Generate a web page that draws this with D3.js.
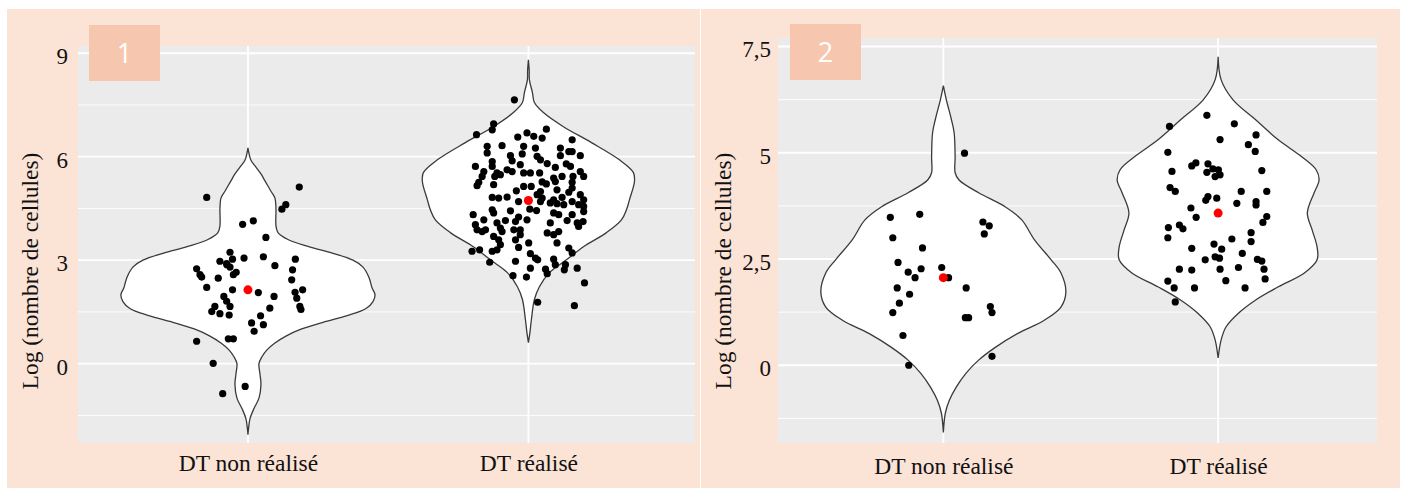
<!DOCTYPE html>
<html><head><meta charset="utf-8">
<script src="https://cdn.jsdelivr.net/npm/d3@7"></script>
<style>body{margin:0;background:#fff}svg{display:block}</style>
</head><body><svg id="chart" width="1407" height="491"></svg>
<script>
// ---------------- DATA ----------------
const categories = ["DT non réalisé", "DT réalisé"];
const yTitle = "Log (nombre de cellules)";
const panelLabels = ["1", "2"];

const p1TickValues = [0, 3, 6, 9];
const p1TickLabels = ["0", "3", "6", "9"];
const p1MinorTicks = [-1.5, 1.5, 4.5, 7.5];
const p2TickValues = [0, 2.5, 5, 7.5];
const p2TickLabels = ["0", "2,5", "5", "7,5"];
const p2MinorTicks = [-1.25, 1.25, 3.75, 6.25];

// Panel 1 – DT non réalisé : values and horizontal jitter (fraction of category step)
const p1NonValues = [4.82,5.12,4.61,4.48,4.04,4.14,3.66,3.23,3.06,3.10,3.03,2.97,3.03,2.90,2.75,2.58,2.51,2.80,2.58,2.48,2.84,2.72,2.43,2.21,2.14,2.06,1.95,2.07,2.14,1.90,1.95,1.81,1.66,1.66,1.51,1.45,1.41,1.61,1.66,1.57,1.39,1.18,1.13,0.94,0.72,0.72,0.65,0.01,-0.87,-0.66,2.87,2.65];
const p1NonJitter = [-0.147,0.183,0.135,0.121,-0.019,0.019,0.064,-0.064,-0.014,0.055,0.169,-0.100,-0.055,-0.076,-0.183,-0.171,-0.165,-0.064,-0.052,-0.106,0.096,0.159,0.156,-0.147,-0.055,0.037,0.093,0.168,0.195,0.174,-0.086,-0.076,-0.064,-0.118,-0.129,-0.100,-0.067,0.078,0.185,0.189,0.045,0.013,0.055,0.022,-0.070,-0.052,-0.183,-0.124,-0.090,-0.010,-0.075,-0.042];

// Panel 1 – DT réalisé
const p1DoneValues = [7.65,6.95,6.78,6.64,6.80,6.57,6.69,6.59,6.54,6.49,6.30,6.32,6.30,6.25,6.25,6.11,6.08,6.03,6.01,6.15,6.15,6.03,6.03,5.86,5.88,5.77,5.91,5.80,5.79,5.72,5.72,5.72,5.62,5.57,5.69,5.57,5.57,5.43,5.53,5.48,5.53,5.53,5.53,5.43,5.38,5.28,5.43,5.43,5.43,5.26,5.16,5.19,5.14,5.14,5.27,5.21,5.26,5.09,5.01,4.99,5.04,4.97,4.90,4.75,4.82,4.80,4.83,4.70,4.90,4.80,4.75,4.82,4.70,4.66,4.64,4.61,4.70,4.61,4.56,4.48,4.44,4.32,4.46,4.37,4.43,4.37,4.32,4.32,4.41,4.17,4.25,4.12,4.17,4.03,3.88,4.08,3.93,4.15,4.08,4.15,4.08,4.12,3.98,3.88,3.83,3.88,3.88,3.74,3.83,3.79,3.74,3.83,3.69,3.59,3.45,3.59,3.50,3.50,3.37,3.26,3.30,3.26,3.30,3.35,3.21,3.19,3.06,3.01,2.94,2.97,3.03,2.87,2.87,2.72,2.77,2.77,2.74,2.61,2.55,2.51,2.34,1.78,1.68];
const p1DoneJitter = [-0.050,-0.124,-0.129,-0.185,0.064,-0.038,-0.005,0.019,0.049,0.156,-0.147,-0.094,-0.017,0.025,0.114,-0.147,-0.022,-0.064,0.031,0.144,0.156,0.114,0.185,-0.129,-0.058,-0.029,0.043,0.067,0.135,0.150,-0.189,-0.129,-0.076,-0.058,0.096,0.185,-0.159,-0.165,-0.112,-0.100,-0.017,0.007,0.040,-0.120,0.090,0.096,0.120,0.159,0.197,-0.177,-0.183,-0.124,-0.017,0.010,0.049,0.064,0.156,0.156,-0.043,0.043,0.102,0.144,0.185,0.197,-0.129,-0.106,-0.076,-0.035,0.031,0.049,0.090,0.120,0.043,0.078,0.102,0.126,0.156,0.179,0.197,0.005,0.029,-0.197,-0.129,-0.124,-0.064,0.090,0.108,0.156,0.197,-0.159,-0.035,-0.046,-0.005,-0.189,-0.183,-0.112,-0.100,-0.082,0.078,0.138,0.174,0.195,0.179,-0.153,-0.165,-0.052,-0.029,-0.029,-0.094,0.067,0.090,0.108,-0.124,-0.106,-0.100,-0.046,0.001,0.102,-0.035,-0.201,-0.174,-0.129,-0.112,0.144,0.156,0.007,0.025,0.033,-0.138,-0.046,0.090,0.096,0.132,0.128,0.174,0.007,0.061,0.067,-0.055,-0.007,0.200,0.033,0.164];

// Panel 2 – DT non réalisé
const p2NonValues = [4.99,3.48,3.55,3.37,3.28,3.09,3.00,2.76,2.42,2.27,2.30,2.19,2.06,2.06,1.82,1.82,1.67,1.46,1.38,1.24,1.24,1.12,1.12,0.70,0.21,0.00];
const p2NonJitter = [0.077,-0.193,-0.086,0.144,0.167,0.149,-0.184,-0.076,-0.165,-0.081,-0.006,-0.128,-0.103,0.019,-0.168,0.083,-0.123,-0.160,0.171,0.177,-0.184,0.080,0.092,-0.147,0.177,-0.126];

// Panel 2 – DT réalisé
const p2DoneValues = [5.88,5.62,5.68,5.42,5.31,5.19,5.03,5.01,4.69,4.76,4.74,4.62,4.60,4.54,4.44,4.48,4.56,4.58,4.18,4.09,3.97,3.88,3.93,4.09,4.09,3.81,3.85,3.77,3.70,3.48,3.50,3.36,3.24,3.30,3.21,3.00,3.12,2.97,2.91,2.75,2.85,2.73,2.63,2.48,2.55,2.52,2.49,2.45,2.26,2.24,2.26,2.30,2.26,2.03,1.99,1.98,1.82,1.82,1.82,1.49];
const p2DoneJitter = [-0.041,-0.177,0.059,0.138,0.007,0.110,0.135,-0.183,-0.096,-0.081,-0.037,-0.019,0.001,-0.041,-0.011,0.007,-0.168,0.159,-0.175,-0.156,-0.037,-0.045,-0.005,0.084,0.177,0.068,0.138,0.138,-0.099,-0.080,0.177,0.163,-0.181,-0.141,-0.128,-0.183,0.120,0.050,0.120,-0.096,-0.015,0.013,0.088,-0.047,-0.011,0.005,0.143,0.159,-0.141,-0.096,0.007,0.074,0.167,0.171,0.028,-0.183,-0.160,-0.086,0.098,-0.156];

// Group means (red points)
const p1Means = [2.14, 4.73];
const p2Means = [2.06, 3.58];

// Violin density profiles: [value, relative density]
const p1NonViolin = [[6.26,0],[6.1,1],[5.9,3],[5.7,8],[5.5,13],[5.3,17],[5.0,23],[4.8,27],[4.5,28],[4.0,28],[3.8,30],[3.6,40],[3.4,60],[3.2,85],[3.0,105],[2.8,115],[2.5,121],[2.2,124],[2.0,127],[1.8,125],[1.6,118],[1.4,100],[1.2,75],[1.0,53],[0.8,38],[0.6,27],[0.4,19],[0.2,14],[0,11],[-0.3,12],[-0.6,13],[-1.0,11],[-1.3,6],[-1.6,2],[-1.9,0.5],[-2.06,0]];
const p1DoneViolin = [[8.81,0],[8.5,0.8],[8.23,1],[7.86,4],[7.57,6],[7.28,15],[6.87,35],[6.41,63],[5.91,91],[5.54,105],[5.28,106],[4.75,101],[4.46,98],[4.17,93],[3.80,78],[3.39,55],[3.01,38],[2.64,21],[2.23,11],[1.86,6],[1.28,3],[0.9,1.5],[0.61,0]];
const p2NonViolin = [[6.58,0],[6.25,3],[5.8,8],[5.47,11],[4.9,12],[4.53,12],[4.36,16],[4.06,36],[3.73,63],[3.42,80],[2.95,93],[2.48,110],[2.17,120],[1.72,125],[1.37,120],[1.06,103],[0.75,76],[0.42,53],[0.12,36],[-0.19,23],[-0.52,13],[-0.83,6],[-1.13,2],[-1.58,0]];
const p2DoneViolin = [[7.26,0],[6.72,3],[6.25,15],[5.78,38],[5.31,61],[4.91,85],[4.60,100],[4.36,103],[4.06,98],[3.58,91],[3.18,96],[2.78,101],[2.48,101],[2.17,88],[1.84,61],[1.53,38],[1.23,21],[0.90,8],[0.59,3],[0.17,0]];

// ---------------- LAYOUT ----------------
const svg = d3.select("#chart");
const serif = "'Liberation Serif','Times New Roman',serif";

const panels = [
  { bg: [7, 9, 693, 479], plot: { l: 78, t: 46, r: 695, b: 443 }, yDomain: [-2.30, 9.21],
    ticks: p1TickValues, tickLabels: p1TickLabels, minor: p1MinorTicks, pad: 0.6, align: 0.505,
    titleX: 38, tickPad: 10, xLabelY: 471, box: [89, 25, 71, 56], label: panelLabels[0],
    groups: [ {v: p1NonValues, j: p1NonJitter, vio: p1NonViolin}, {v: p1DoneValues, j: p1DoneJitter, vio: p1DoneViolin} ],
    means: p1Means },
  { bg: [701, 9, 699, 479], plot: { l: 778, t: 38, r: 1377, b: 443 }, yDomain: [-1.83, 7.70],
    ticks: p2TickValues, tickLabels: p2TickLabels, minor: p2MinorTicks, pad: 0.59, align: 0.51,
    titleX: 731, tickPad: 7, xLabelY: 474, box: [790, 24, 71, 56], label: panelLabels[1],
    groups: [ {v: p2NonValues, j: p2NonJitter, vio: p2NonViolin}, {v: p2DoneValues, j: p2DoneJitter, vio: p2DoneViolin} ],
    means: p2Means }
];

panels.forEach(P => {
  const g = svg.append("g");
  g.append("rect").attr("x", P.bg[0]).attr("y", P.bg[1]).attr("width", P.bg[2]).attr("height", P.bg[3]).attr("fill", "#FBE3D6");
  const p = P.plot;
  g.append("rect").attr("x", p.l).attr("y", p.t).attr("width", p.r - p.l).attr("height", p.b - p.t).attr("fill", "#EBEBEB");

  const y = d3.scaleLinear().domain(P.yDomain).range([p.b, p.t]);
  const x = d3.scalePoint().domain(categories).range([p.l, p.r]).padding(P.pad).align(P.align);
  const step = x.step();
  const w = d3.scaleLinear().domain([0, 127]).range([0, 0.453 * step]);

  // grid
  g.selectAll(".minor").data(P.minor).join("line")
    .attr("x1", p.l).attr("x2", p.r).attr("y1", d => y(d)).attr("y2", d => y(d))
    .attr("stroke", "#fff").attr("stroke-width", 0.9);
  g.selectAll(".major").data(P.ticks).join("line")
    .attr("x1", p.l).attr("x2", p.r).attr("y1", d => y(d)).attr("y2", d => y(d))
    .attr("stroke", "#fff").attr("stroke-width", 1.8);
  g.selectAll(".vmajor").data(categories).join("line")
    .attr("x1", d => x(d)).attr("x2", d => x(d)).attr("y1", p.t).attr("y2", p.b)
    .attr("stroke", "#fff").attr("stroke-width", 1.8);

  // violins
  P.groups.forEach((grp, i) => {
    const cx = x(categories[i]);
    const area = d3.area()
      .y(d => y(d[0]))
      .x0(d => cx - w(d[1]))
      .x1(d => cx + w(d[1]))
      .curve(d3.curveCatmullRom.alpha(0.5));
    g.append("path").datum(grp.vio).attr("d", area)
      .attr("fill", "#fff").attr("stroke", "#3a3a3a").attr("stroke-width", 1.3);
  });

  // points
  P.groups.forEach((grp, i) => {
    const cx = x(categories[i]);
    g.append("g").selectAll("circle").data(grp.v).join("circle")
      .attr("cx", (d, k) => cx + grp.j[k] * step)
      .attr("cy", d => y(d))
      .attr("r", 3.6).attr("fill", "#000");
  });
  // means
  g.append("g").selectAll("circle").data(P.means).join("circle")
    .attr("cx", (d, i) => x(categories[i])).attr("cy", d => y(d))
    .attr("r", 4.5).attr("fill", "#FF0000");

  // y axis
  const ya = d3.axisLeft(y).tickValues(P.ticks).tickFormat((d, i) => P.tickLabels[i]).tickSize(0).tickPadding(P.tickPad);
  const yg = g.append("g").attr("transform", `translate(${p.l},0)`).call(ya);
  yg.select(".domain").remove();
  yg.selectAll("text").attr("font-family", serif).attr("font-size", 23).attr("fill", "#111").attr("dy", "0.45em");

  // x axis labels
  const xa = d3.axisBottom(x).tickSize(0).tickPadding(0);
  const xg = g.append("g").attr("transform", `translate(0,${P.xLabelY})`).call(xa);
  xg.select(".domain").remove();
  xg.selectAll("text").attr("font-family", serif).attr("font-size", 23.5).attr("fill", "#111").attr("dy", 0).attr("y", 0);

  // y title
  g.append("text").attr("transform", `translate(${P.titleX},271) rotate(-90)`)
    .attr("text-anchor", "middle").attr("font-family", serif).attr("font-size", 23.5).attr("fill", "#111")
    .text(yTitle);

  // panel number box
  g.append("rect").attr("x", P.box[0]).attr("y", P.box[1]).attr("width", P.box[2]).attr("height", P.box[3]).attr("fill", "#F6C7AE");
  g.append("text").attr("x", P.box[0] + P.box[2] / 2).attr("y", P.box[1] + P.box[3] / 2)
    .attr("dy", "0.36em").attr("text-anchor", "middle").attr("font-family", "'Open Sans','Liberation Sans',sans-serif")
    .attr("font-size", 27).attr("fill", "#fff").text(P.label);
});
</script>
</body></html>
